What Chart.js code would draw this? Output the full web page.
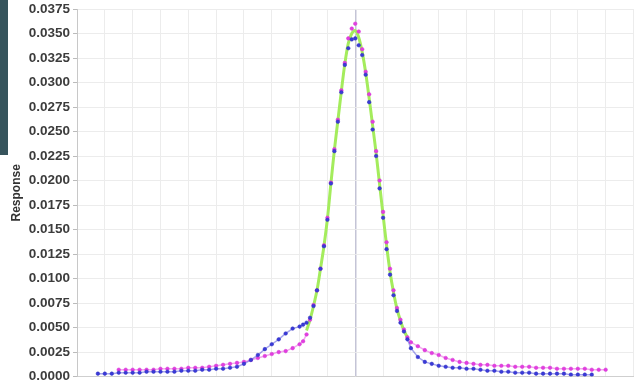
<!DOCTYPE html>
<html>
<head>
<meta charset="utf-8">
<script src="https://cdn.jsdelivr.net/npm/chart.js@4/dist/chart.umd.min.js"></script>
<style>
  html, body { margin: 0; padding: 0; background: #fff; }
  #wrap { position: relative; width: 638px; height: 385px; }
  #strip { position: absolute; left: 0; top: 0; width: 8px; height: 155px; background: #36545c; }
</style>
</head>
<body>
<div id="wrap">
  <canvas id="chart" width="638" height="385"></canvas>
  <div id="strip"></div>
</div>
<script>
// x positions (arbitrary units, peak centred at 10)
const xs = [
  0.75, 1, 1.25, 1.5, 1.75, 2, 2.25, 2.5, 2.75, 3, 3.25, 3.5, 3.75, 4, 4.25, 4.5, 4.75,
  5, 5.25, 5.5, 5.75, 6, 6.25, 6.5, 6.75, 7, 7.25, 7.5, 7.75,
  8, 8.125, 8.25, 8.375, 8.5, 8.625, 8.75, 8.875, 9, 9.125, 9.25, 9.375, 9.5, 9.625, 9.75, 9.875,
  10, 10.125, 10.25, 10.375, 10.5, 10.625, 10.75, 10.875, 11, 11.125, 11.25, 11.375, 11.5, 11.625, 11.75, 11.875, 12,
  12.25, 12.5, 12.75, 13, 13.25, 13.5, 13.75, 14, 14.25, 14.5, 14.75, 15, 15.25, 15.5, 15.75,
  16, 16.25, 16.5, 16.75, 17, 17.25, 17.5, 17.75, 18, 18.25, 18.5, 18.75, 19
];
const blue = [
  0.0003, 0.0003, 0.0003, 0.0004, 0.0004, 0.0004, 0.0004, 0.0005, 0.0005, 0.0005, 0.0005, 0.0005, 0.0006, 0.0006, 0.0006, 0.0007, 0.0007,
  0.0008, 0.0008, 0.0009, 0.0010, 0.0013, 0.0017, 0.0022, 0.0028, 0.0033, 0.0038, 0.0044, 0.0049,
  0.0051, 0.0053, 0.0055, 0.0060, 0.0072, 0.0088, 0.0110, 0.0133, 0.0160, 0.0197, 0.0230, 0.0260, 0.0290, 0.0318, 0.0335, 0.0344,
  0.0345, 0.0338, 0.0328, 0.0308, 0.0280, 0.0252, 0.0225, 0.0192, 0.0162, 0.0130, 0.0104, 0.0083, 0.0067, 0.0055, 0.0046, 0.0038, 0.0029,
  0.0020, 0.0015, 0.0013, 0.0011, 0.0010, 0.0009, 0.0009, 0.0008, 0.0008, 0.0007, 0.0006, 0.0006, 0.0005, 0.0005, 0.0004,
  0.0004, 0.0004, 0.0003, 0.0003, 0.0003, 0.0003, 0.0003, 0.0002, 0.0002, 0.0002, 0.0002, null, null
];
const magenta = [
  null, null, null, 0.0007, 0.0007, 0.0007, 0.0007, 0.0007, 0.0007, 0.0008, 0.0008, 0.0008, 0.0008, 0.0009, 0.0009, 0.0009, 0.0010,
  0.0011, 0.0012, 0.0013, 0.0014, 0.0015, 0.0017, 0.0019, 0.0021, 0.0023, 0.0025, 0.0026, 0.0029,
  0.0033, 0.0036, 0.0043, 0.0058, 0.0073, 0.0088, 0.0110, 0.0134, 0.0162, 0.0198, 0.0232, 0.0262, 0.0292, 0.0320, 0.0345, 0.0355,
  0.0360, 0.0352, 0.0334, 0.0311, 0.0288, 0.0260, 0.0230, 0.0200, 0.0168, 0.0137, 0.0110, 0.0088, 0.0070, 0.0058, 0.0048, 0.0040, 0.0035,
  0.0031, 0.0027, 0.0024, 0.0022, 0.0019, 0.0017, 0.0015, 0.0014, 0.0013, 0.0012, 0.0012, 0.0011, 0.0011, 0.0011, 0.0010,
  0.0010, 0.0010, 0.0009, 0.0009, 0.0009, 0.0008, 0.0008, 0.0008, 0.0008, 0.0008, 0.0007, 0.0007, 0.0007
];
// fitted curve, only drawn around the peak
const fit = [
  null, null, null, null, null, null, null, null, null, null, null, null, null, null, null, null, null,
  null, null, null, null, null, null, null, null, null, null, null, null,
  null, null, 0.0047, 0.0058, 0.0072, 0.0088, 0.0110, 0.0133, 0.0161, 0.0197, 0.0231, 0.0261, 0.0291, 0.0319, 0.0340, 0.0350,
  0.0353, 0.0346, 0.0331, 0.0310, 0.0284, 0.0256, 0.0228, 0.0196, 0.0165, 0.0134, 0.0107, 0.0086, 0.0069, 0.0057, 0.0047, 0.0040, null,
  null, null, null, null, null, null, null, null, null, null, null, null, null, null, null,
  null, null, null, null, null, null, null, null, null, null, null, null, null
];
const yTicks = [0, 0.0025, 0.005, 0.0075, 0.01, 0.0125, 0.015, 0.0175, 0.02, 0.0225, 0.025, 0.0275, 0.03, 0.0325, 0.035, 0.0375];

function pts(arr) {
  return xs.map((x, i) => ({ x: x, y: arr[i] }));
}

// hide the joining line where the fit curve is drawn, so the green shows between dots
function tailOnly(color) {
  return ctx => (ctx.p0.parsed.x >= 8.2 && ctx.p1.parsed.x <= 11.9) ? "rgba(0,0,0,0)" : color;
}

new Chart(document.getElementById("chart").getContext("2d"), {
  type: "line",
  data: {
    datasets: [
      {
        data: pts(fit),
        borderColor: "#a4ec5c",
        borderWidth: 3,
        pointRadius: 0,
        tension: 0.3,
        order: 3
      },
      {
        data: pts(magenta),
        borderColor: "rgba(230, 60, 220, 0.45)",
        borderWidth: 1.5,
        segment: { borderColor: tailOnly("rgba(230, 60, 220, 0.45)") },
        pointRadius: 1.8,
        pointBackgroundColor: "#e23ee0",
        pointBorderColor: "#d434d4",
        pointBorderWidth: 0.5,
        order: 2
      },
      {
        data: pts(blue),
        borderColor: "rgba(55, 55, 215, 0.45)",
        borderWidth: 1.5,
        segment: { borderColor: tailOnly("rgba(55, 55, 215, 0.45)") },
        pointRadius: 1.8,
        pointBackgroundColor: "#3a3ad8",
        pointBorderColor: "#2e2ec0",
        pointBorderWidth: 0.5,
        order: 1
      }
    ]
  },
  options: {
    responsive: false,
    animation: false,
    layout: { padding: { top: 9, right: 0, left: 0, bottom: 0 } },
    plugins: { legend: { display: false }, tooltip: { enabled: false } },
    scales: {
      x: {
        type: "linear",
        min: 0,
        max: 20,
        ticks: { display: false, stepSize: 1 },
        grid: {
          color: ctx => ctx.tick && ctx.tick.value === 10 ? "#c4c4d6" : "#ececec",
          lineWidth: ctx => ctx.tick && ctx.tick.value === 10 ? 1.5 : 1,
          drawTicks: false
        },
        border: { color: "#cfcfcf" },
        afterFit: s => { s.height = 6; }
      },
      y: {
        min: 0,
        max: 0.0375,
        afterBuildTicks: s => { s.ticks = yTicks.map(v => ({ value: v })); },
        ticks: {
          color: "#3c3c3c",
          font: { family: "Liberation Sans", size: 13.5, weight: "bold", lineHeight: 0.8 },
          padding: 3,
          callback: v => v.toFixed(4)
        },
        grid: { color: "#ececec", tickLength: 4, tickColor: "#bbbbbb" },
        border: { color: "#c8c8c8" },
        title: {
          display: true,
          text: "Response",
          color: "#333",
          font: { family: "Liberation Sans", size: 12, weight: "bold" },
          padding: { top: 9, bottom: 0 }
        },
        afterFit: s => { s.width = 77; }
      }
    }
  }
});
</script>
</body>
</html>
